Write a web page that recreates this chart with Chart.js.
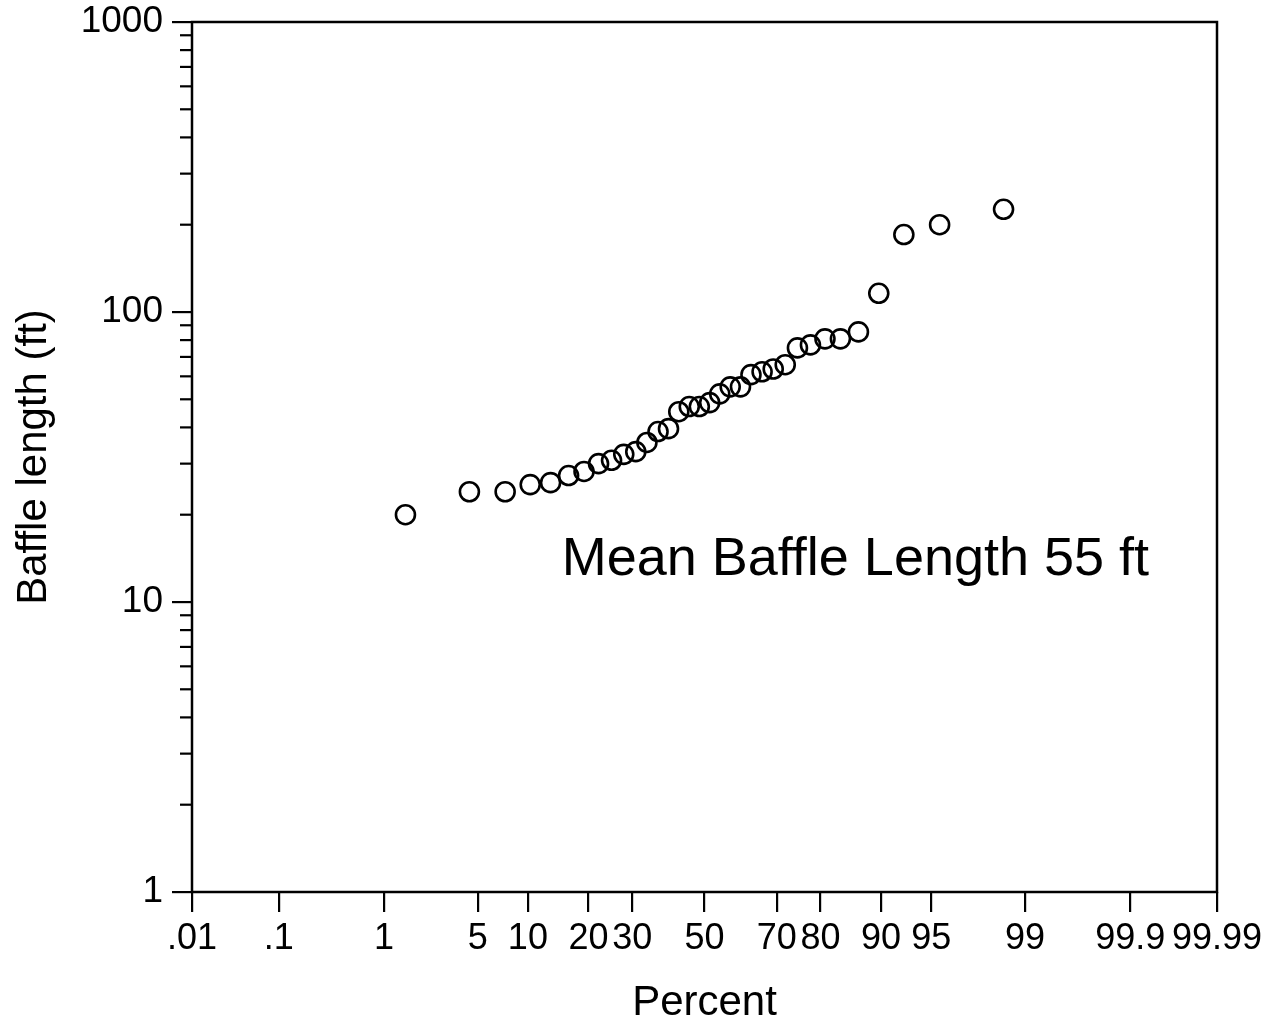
<!DOCTYPE html>
<html>
<head>
<meta charset="utf-8">
<script src="https://cdn.jsdelivr.net/npm/chart.js@4"></script>
<style>
  body { margin: 0; background: #fff; }
  #wrap { width: 1284px; height: 1032px; }
</style>
</head>
<body>
<div id="wrap"><canvas id="chart" width="1284" height="1032"></canvas></div>
<script>
// cumulative percent of each baffle
const percents = [1.5, 4.4, 7.4, 10.3, 13.2, 16.2, 19.1, 22.1, 25.0, 27.9, 30.9, 33.8,
  36.8, 39.7, 42.6, 45.6, 48.5, 51.5, 54.4, 57.4, 60.3, 63.2, 66.2, 69.1, 72.1, 75.0,
  77.9, 80.9, 83.8, 86.8, 89.7, 92.6, 95.6, 98.5];
// baffle length in ft
const lengths = [20, 24, 24, 25.4, 25.8, 27.3, 28.2, 30, 30.8, 32.3, 33, 35.5,
  38.7, 39.6, 45.3, 47.2, 47.2, 48.7, 52.2, 55.2, 55.2, 60.8, 62.2, 63.6, 65.8, 75.2,
  77, 80.8, 80.8, 85.4, 116, 185, 200, 226];

const xTickPercents = [0.01, 0.1, 1, 5, 10, 20, 30, 50, 70, 80, 90, 95, 99, 99.9, 99.99];
const xTickLabels = ['.01', '.1', '1', '5', '10', '20', '30', '50', '70', '80', '90', '95', '99', '99.9', '99.99'];
const yMajorTicks = [1, 10, 100, 1000];
const yTickLabels = ['1', '10', '100', '1000'];

const FONT = "'Liberation Sans', Arial, Helvetica, sans-serif";

// inverse normal CDF (Acklam), used to place percents on the probability axis
function probit(p) {
  const a = [-3.969683028665376e+01, 2.209460984245205e+02, -2.759285104469687e+02, 1.383577518672690e+02, -3.066479806614716e+01, 2.506628277459239e+00];
  const b = [-5.447609879822406e+01, 1.615858368580409e+02, -1.556989798598866e+02, 6.680131188771972e+01, -1.328068155288572e+01];
  const c = [-7.784894002430293e-03, -3.223964580411365e-01, -2.400758277161838e+00, -2.549732539343734e+00, 4.374664141464968e+00, 2.938163982698783e+00];
  const d = [7.784695709041462e-03, 3.224671290700398e-01, 2.445134137142996e+00, 3.754408661907416e+00];
  const pl = 0.02425;
  if (p < pl) {
    const q = Math.sqrt(-2 * Math.log(p));
    return (((((c[0]*q+c[1])*q+c[2])*q+c[3])*q+c[4])*q+c[5]) / ((((d[0]*q+d[1])*q+d[2])*q+d[3])*q+1);
  }
  if (p <= 1 - pl) {
    const q = p - 0.5, r = q * q;
    return (((((a[0]*r+a[1])*r+a[2])*r+a[3])*r+a[4])*r+a[5])*q / (((((b[0]*r+b[1])*r+b[2])*r+b[3])*r+b[4])*r+1);
  }
  const q = Math.sqrt(-2 * Math.log(1 - p));
  return -(((((c[0]*q+c[1])*q+c[2])*q+c[3])*q+c[4])*q+c[5]) / ((((d[0]*q+d[1])*q+d[2])*q+d[3])*q+1);
}

const points = percents.map((p, i) => ({ x: probit(p / 100), y: lengths[i] }));

// y ticks: decades plus the 2..9 minors in between
const yAllTicks = [];
for (let i = 0; i < yMajorTicks.length; i++) {
  yAllTicks.push({ value: yMajorTicks[i], major: true });
  if (i < yMajorTicks.length - 1) {
    for (let m = 2; m <= 9; m++) yAllTicks.push({ value: yMajorTicks[i] * m, major: false });
  }
}

// frame, minor y ticks and the note
const extras = {
  id: 'extras',
  afterDraw(chart) {
    const { ctx, chartArea: ca, scales: { x, y } } = chart;
    ctx.save();
    ctx.strokeStyle = '#000';
    ctx.lineWidth = 2.5;
    ctx.strokeRect(ca.left, ca.top, ca.right - ca.left, ca.bottom - ca.top);

    ctx.lineWidth = 2.2;
    yAllTicks.filter(t => !t.major).forEach(t => {
      const py = y.getPixelForValue(t.value);
      ctx.beginPath();
      ctx.moveTo(ca.left - 12, py);
      ctx.lineTo(ca.left, py);
      ctx.stroke();
    });

    ctx.fillStyle = '#000';
    ctx.font = '54px ' + FONT;
    ctx.textAlign = 'left';
    ctx.textBaseline = 'alphabetic';
    ctx.fillText('Mean Baffle Length 55 ft', x.getPixelForValue(probit(0.15)), y.getPixelForValue(12.4));
    ctx.restore();
  }
};

function noScalePad(scale) {
  scale.paddingTop = 0;
  scale.paddingBottom = 0;
  scale.paddingLeft = 0;
  scale.paddingRight = 0;
}

new Chart(document.getElementById('chart'), {
  type: 'scatter',
  data: {
    datasets: [{
      data: points,
      pointStyle: 'circle',
      pointRadius: 9.5,
      pointHoverRadius: 9.5,
      pointBorderWidth: 2.6,
      pointBorderColor: '#000',
      pointBackgroundColor: 'rgba(0,0,0,0)'
    }]
  },
  options: {
    responsive: false,
    animation: false,
    layout: { padding: { top: 22, right: 67, left: 0, bottom: 0 } },
    plugins: { legend: { display: false }, tooltip: { enabled: false } },
    scales: {
      x: {
        type: 'linear',
        min: probit(0.0001),
        max: probit(0.9999),
        afterBuildTicks: (scale) => {
          scale.ticks = xTickPercents.map(p => ({ value: probit(p / 100) }));
        },
        afterFit: (scale) => { scale.height = 140; noScalePad(scale); },
        border: { display: false },
        grid: { drawOnChartArea: false, tickLength: 20, tickColor: '#000', lineWidth: 2.2 },
        ticks: {
          autoSkip: false,
          maxRotation: 0,
          padding: 5,
          color: '#000',
          font: { family: FONT, size: 36 },
          callback: (v, i) => xTickLabels[i]
        },
        title: {
          display: true,
          text: 'Percent',
          color: '#000',
          font: { family: FONT, size: 42 },
          padding: { top: 0, bottom: 3 }
        }
      },
      y: {
        type: 'logarithmic',
        min: 1,
        max: 1000,
        afterBuildTicks: (scale) => {
          scale.ticks = yAllTicks.map(t => ({ value: t.value, major: t.major }));
        },
        afterFit: (scale) => { scale.width = 192; noScalePad(scale); },
        border: { display: false },
        grid: {
          drawOnChartArea: false,
          tickLength: 20,
          lineWidth: 2.2,
          tickColor: (c) => (c.tick && c.tick.major ? '#000' : 'rgba(0,0,0,0)')
        },
        ticks: {
          autoSkip: false,
          padding: 9,
          color: '#000',
          font: { family: FONT, size: 37 },
          callback: (v) => {
            const k = yMajorTicks.indexOf(v);
            return k >= 0 ? yTickLabels[k] : '';
          }
        },
        title: {
          display: true,
          text: 'Baffle length (ft)',
          color: '#000',
          font: { family: FONT, size: 42 },
          padding: { top: 9, bottom: 0 }
        }
      }
    }
  },
  plugins: [extras]
});
</script>
</body>
</html>
